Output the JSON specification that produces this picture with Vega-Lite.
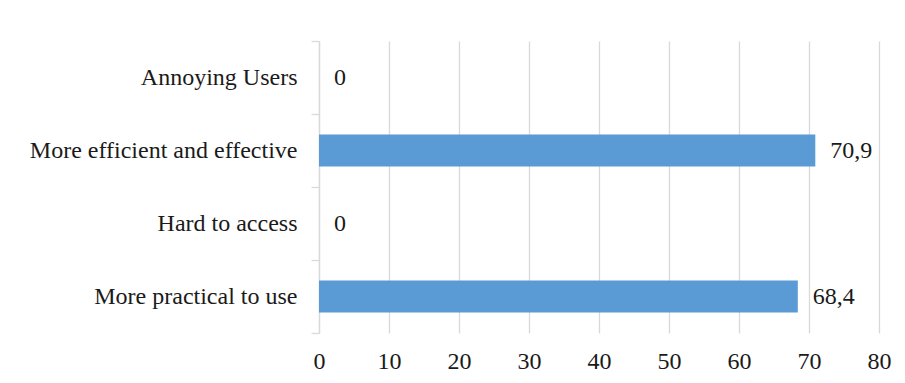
{
  "$schema": "https://vega.github.io/schema/vega-lite/v6.json",
  "width": 560,
  "height": 292,
  "autosize": {"type": "none"},
  "padding": {"left": 319, "top": 41, "right": 26, "bottom": 50},
  "background": "white",
  "config": {
    "view": {"stroke": null},
    "font": "Liberation Serif",
    "locale": {"number": {"decimal": ",", "thousands": ".", "grouping": [3], "currency": ["", " €"]}}
  },
  "data": {
    "values": [
      {"category": "Annoying Users", "value": 0},
      {"category": "More efficient and effective", "value": 70.9},
      {"category": "Hard to access", "value": 0},
      {"category": "More practical to use", "value": 68.4}
    ]
  },
  "encoding": {
    "y": {
      "field": "category",
      "type": "nominal",
      "sort": null,
      "scale": {"paddingInner": 0, "paddingOuter": 0},
      "axis": {
        "title": null,
        "tickBand": "extent",
        "domainColor": "#D9D9D9",
        "domainWidth": 1.3,
        "tickColor": "#D9D9D9",
        "tickWidth": 1.3,
        "tickSize": 8,
        "labelPadding": 14,
        "labelFontSize": 24,
        "labelFont": "Liberation Serif",
        "labelColor": "#1a1a1a",
        "labelLimit": 500,
        "grid": false
      }
    },
    "x": {
      "field": "value",
      "type": "quantitative",
      "scale": {"domain": [0, 80], "nice": false},
      "axis": {
        "title": null,
        "values": [0, 10, 20, 30, 40, 50, 60, 70, 80],
        "domain": false,
        "ticks": false,
        "grid": true,
        "gridColor": "#D9D9D9",
        "gridWidth": 1.3,
        "labelPadding": 16,
        "labelFontSize": 24,
        "labelFont": "Liberation Serif",
        "labelColor": "#1a1a1a",
        "labelFlush": false
      }
    }
  },
  "layer": [
    {
      "mark": {"type": "bar", "color": "#5B9BD5", "height": {"band": 0.44}}
    },
    {
      "mark": {"type": "text", "align": "left", "baseline": "middle", "dx": 15, "fontSize": 24, "font": "Liberation Serif", "color": "#1a1a1a"},
      "encoding": {
        "text": {"field": "value", "type": "quantitative", "format": ".1~f"}
      }
    }
  ]
}
